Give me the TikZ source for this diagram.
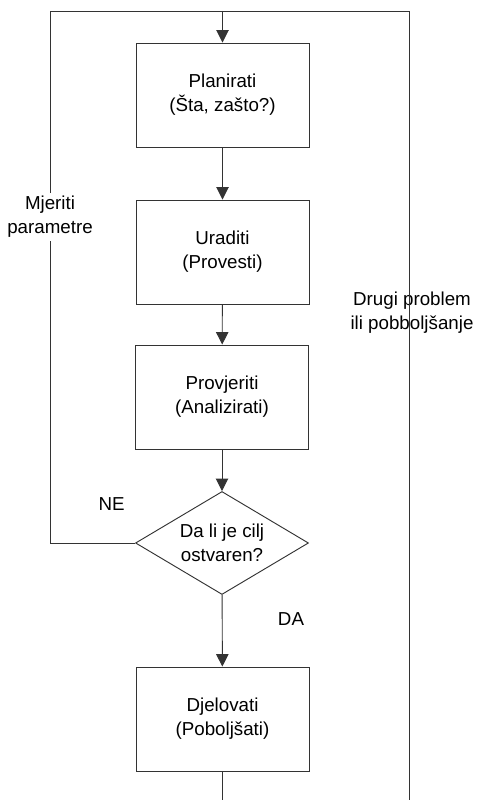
\documentclass[tikz,border=0pt]{standalone}
\usepackage{fontspec}
\setmainfont{Liberation Sans}
\usetikzlibrary{positioning,arrows.meta,shapes.geometric}

\begin{document}
\begin{tikzpicture}[x=0.3cm, y=0.3cm,
  line/.style={draw=black!80, line width=0.8pt},
  arr/.style={line, -{Triangle[length=3.7mm, width=3.7mm]}},
  stepbox/.style={line, rectangle, minimum width=5.19cm, minimum height=3.12cm,
    align=center, font=\fontsize{16}{20.5}\selectfont},
  decision/.style={line, diamond, aspect=1.68, inner sep=0pt,
    minimum width=5.19cm, minimum height=3.09cm,
    align=center, font=\fontsize{16}{20.5}\selectfont},
  label/.style={align=center, inner sep=2.5pt, font=\fontsize{16}{20.5}\selectfont}]
\useasboundingbox (0, 0) rectangle (47.7, 80);
% Frame corners
\coordinate (nw) at (5, 78.9);
\coordinate (top) at (22.25, 78.9);
\coordinate (ne) at (40.9, 78.9);
\coordinate (se) at (40.9, 0);
\coordinate (bot) at (22.25, 0);
% Steps
\node[stepbox] (plan) at (22.25, 70.5) {Planirati\\(Šta, zašto?)};
\node[stepbox] (do) at (22.25, 54.8) {Uraditi\\(Provesti)};
\node[stepbox] (check) at (22.2, 40.3) {Provjeriti\\(Analizirati)};
\node[decision] (goal) at (22.2, 25.7) {Da li je cilj\\ostvaren?};
\node[stepbox] (act) at (22.25, 8.1) {Djelovati\\(Poboljšati)};
% Labels
\node[label] (measure) at (5, 58.3) {Mjeriti\\parametre};
\node[label] (no) at (11.17, 29.6) {NE};
\node[label] (yes) at (29.1, 18.1) {DA};
\node[label] (other) at (41.2, 48.7) {Drugi problem\\ili pobboljšanje};
% Main flow
\draw[arr] (top) -- (plan);
\draw[arr] (plan) -- (do);
\draw[arr] (do) -- (check);
\draw[arr] (check) -- (goal);
\draw[arr] (goal) -- (act);
\draw[line] (act) -- (bot);
% Feedback loops
\draw[line] (goal.west) -| (measure.south);
\draw[line] (measure.north) |- (ne) -- (se);
\end{tikzpicture}
\end{document}
